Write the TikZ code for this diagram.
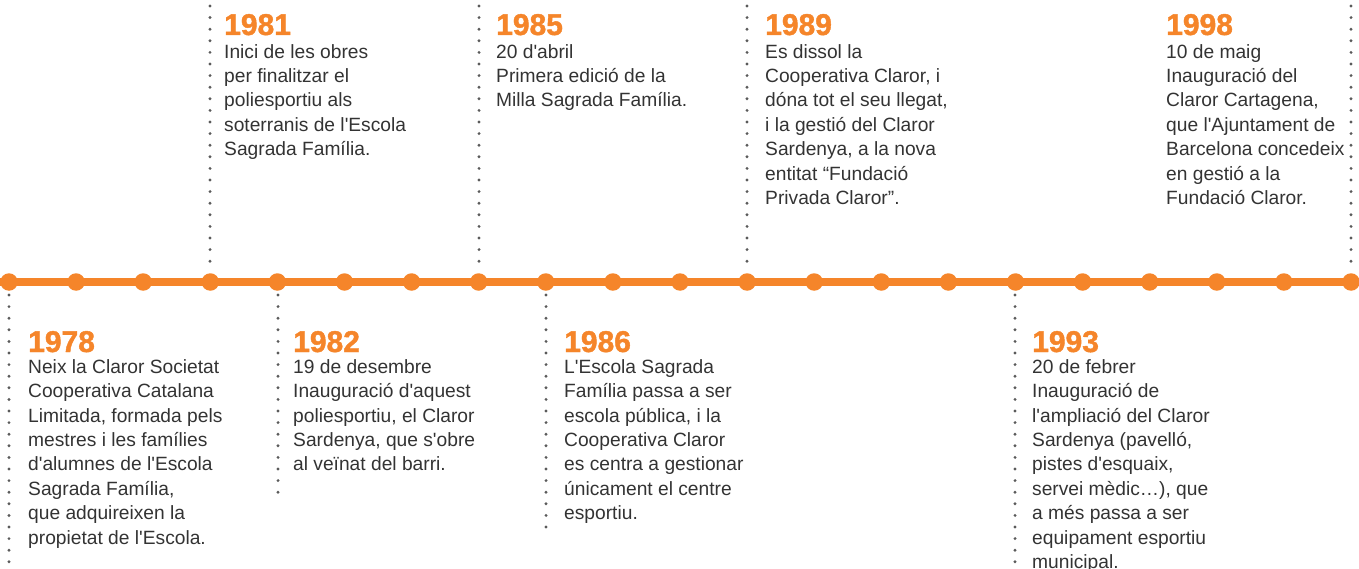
\documentclass[tikz,border=0pt]{standalone}
\usepackage{fontspec}
\setmainfont{Liberation Sans}[Ligatures=TeXOff]
\newfontfamily\yrfont{Liberation Sans Bold}[FakeBold=1.4]
\definecolor{org}{HTML}{F5852A}
\definecolor{txt}{HTML}{333333}
\definecolor{dotc}{HTML}{5A5A5A}
\newcommand\fl{\rule{0pt}{14pt}}
\begin{document}
\begin{tikzpicture}[x=1pt,y=-1pt,
  tl/.style={draw=none, fill=org, circle, minimum size=17.5pt, inner sep=0pt},
  yr/.style={anchor=base west, inner sep=0pt, font=\fontsize{30}{30}\selectfont\yrfont, text=org},
  bd/.style={anchor=north west, inner sep=0pt, align=left, font=\fontsize{19.2}{24.4}\selectfont, text=txt},
  vd/.style={draw=dotc, line width=3.2pt, line cap=round, dash pattern=on 0pt off 11.6pt},
  axis/.style={draw=org, line width=8pt}]
\useasboundingbox (0,0) rectangle (1359,569);
% timeline
\coordinate (L) at (0,282);
\coordinate (R) at (1359,282);
\draw[axis] (L) -- (R);
\foreach \i in {0,...,20}{
  \node[tl] (d\i) at ({9+67.1*\i},282) {};
}
% vertical dotted guides
\coordinate (t81) at (210,6);   \coordinate (b81) at (210,270);
\coordinate (t85) at (479,6);   \coordinate (b85) at (479,270);
\coordinate (t89) at (747,6);   \coordinate (b89) at (747,270);
\coordinate (t98) at (1351,6);  \coordinate (b98) at (1351,270);
\coordinate (t78) at (9,295);   \coordinate (b78) at (9,569);
\coordinate (t82) at (278,295); \coordinate (b82) at (278,500);
\coordinate (t86) at (546,295); \coordinate (b86) at (546,535);
\coordinate (t93) at (1015,295);\coordinate (b93) at (1015,569);
\foreach \k in {78,81,82,85,86,89,93,98}{\draw[vd] (t\k) -- (b\k);}
% 1978
\node[yr] (y78) at (28,352) {1978};
\node[bd] (x78) at (28,359) {\fl Neix la Claror Societat\\Cooperativa Catalana\\Limitada, formada pels\\mestres i les famílies\\d'alumnes de l'Escola\\Sagrada Família,\\que adquireixen la\\propietat de l'Escola.};
% 1981
\node[yr] (y81) at (224,35) {1981};
\node[bd] (x81) at (224,44) {\fl Inici de les obres\\per finalitzar el\\poliesportiu als\\soterranis de l'Escola\\Sagrada Família.};
% 1982
\node[yr] (y82) at (293,352) {1982};
\node[bd] (x82) at (293,359) {\fl 19 de desembre\\Inauguració d'aquest\\poliesportiu, el Claror\\Sardenya, que s'obre\\al veïnat del barri.};
% 1985
\node[yr] (y85) at (496,35) {1985};
\node[bd] (x85) at (496,44) {\fl 20 d'abril\\Primera edició de la\\Milla Sagrada Família.};
% 1986
\node[yr] (y86) at (564,352) {1986};
\node[bd] (x86) at (564,359) {\fl L'Escola Sagrada\\Família passa a ser\\escola pública, i la\\Cooperativa Claror\\es centra a gestionar\\únicament el centre\\esportiu.};
% 1989
\node[yr] (y89) at (765,35) {1989};
\node[bd] (x89) at (765,44) {\fl Es dissol la\\Cooperativa Claror, i\\dóna tot el seu llegat,\\i la gestió del Claror\\Sardenya, a la nova\\entitat “Fundació\\Privada Claror”.};
% 1993
\node[yr] (y93) at (1032,352) {1993};
\node[bd] (x93) at (1032,359) {\fl 20 de febrer\\Inauguració de\\l'ampliació del Claror\\Sardenya (pavelló,\\pistes d'esquaix,\\servei mèdic…), que\\a més passa a ser\\equipament esportiu\\municipal.};
% 1998
\node[yr] (y98) at (1166,35) {1998};
\node[bd] (x98) at (1166,44) {\fl 10 de maig\\Inauguració del\\Claror Cartagena,\\que l'Ajuntament de\\Barcelona concedeix\\en gestió a la\\Fundació Claror.};
\end{tikzpicture}
\end{document}
